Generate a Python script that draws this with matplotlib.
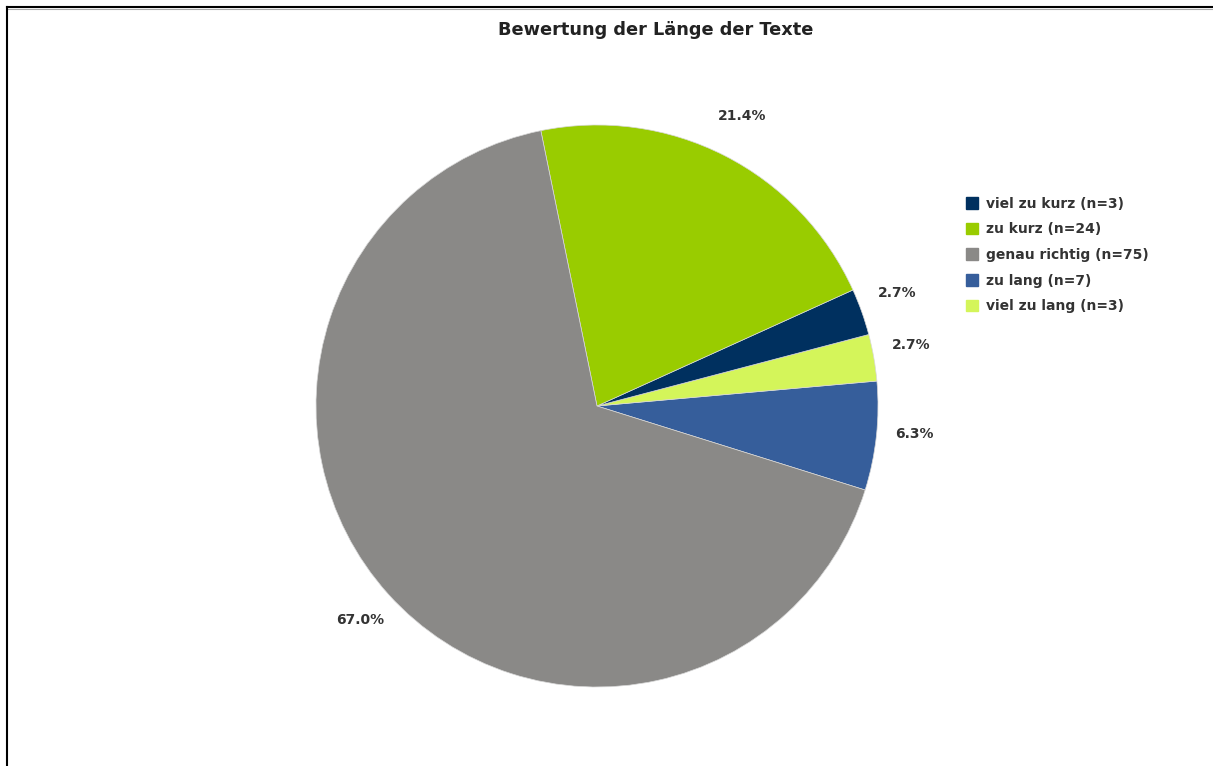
import math
import matplotlib.pyplot as plt
from matplotlib.lines import Line2D

# Answers, in legend order
categories = ['viel zu kurz', 'zu kurz', 'genau richtig', 'zu lang', 'viel zu lang']
counts = [3, 24, 75, 7, 3]
colors = ['#00305f', '#99cc00', '#8a8987', '#365e9b', '#d4f55a']

# order of the wedges going counter-clockwise, starting at the lower right
wedge_order = [3, 4, 0, 1, 2]
start_angle = -17.4

W, H = 1213, 766
cx, cy, R = 597, 406, 281   # pie centre and radius in pixels


def pct(p):
    # round half up (p comes in as float32), so 6.25 shows as 6.3
    return '%.1f%%' % (math.floor(float(p) * 10 + 0.5) / 10)


fig = plt.figure(figsize=(W / 100, H / 100), dpi=100)
fig.patch.set_facecolor('white')

# one data unit = pie radius
ax = fig.add_axes([0, 0, 1, 1])
wedges, texts, autotexts = ax.pie(
    [counts[i] for i in wedge_order],
    colors=[colors[i] for i in wedge_order],
    startangle=start_angle, counterclock=True,
    autopct=pct, pctdistance=1.135,
    wedgeprops=dict(linewidth=0.5, edgecolor='#d8d8d8'),
    textprops=dict(color='#333333', fontsize=10, fontweight='bold'))
# labels on the right side sit a little higher
for t in autotexts:
    x, y = t.get_position()
    if x > 0:
        t.set_position((x, y + 0.021))
ax.set_xlim(-cx / R, (W - cx) / R)
ax.set_ylim(-(H - cy) / R, cy / R)
ax.axis('off')

# frame lines on top and left
fig.add_artist(Line2D([7 / W, 1], [1 - 7 / H, 1 - 7 / H], color='black', lw=1.5))
fig.add_artist(Line2D([7 / W, 1], [1 - 8.5 / H, 1 - 8.5 / H], color='#aaaaaa', lw=0.8))
fig.add_artist(Line2D([7 / W, 7 / W], [0, 1 - 7 / H], color='black', lw=1.5))

fig.text(656 / W, 1 - 30 / H, 'Bewertung der Länge der Texte',
         ha='center', va='center', fontsize=12.8, fontweight='bold', color='#222222')

handles = [plt.Rectangle((0, 0), 1, 1, color=c) for c in colors]
labels = [f'{c} (n={n})' for c, n in zip(categories, counts)]
fig.legend(handles, labels, loc='upper left',
           bbox_to_anchor=(960 / W, 1 - 191 / H), frameon=False,
           handlelength=0.9, handleheight=0.9, handletextpad=0.6,
           labelspacing=0.84, borderaxespad=0,
           prop=dict(size=10, weight='bold'), labelcolor='#333333')

fig.savefig('out.png', dpi=100)
